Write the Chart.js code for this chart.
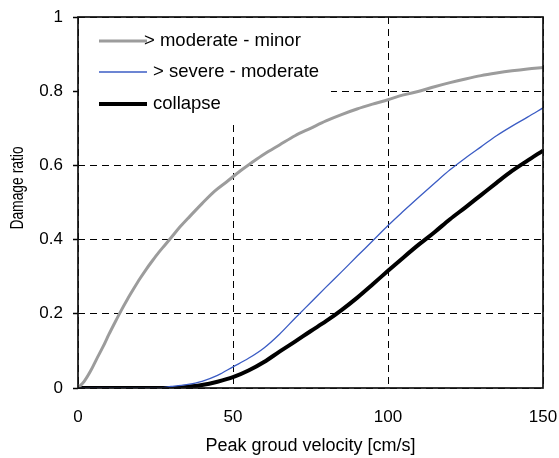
<!DOCTYPE html>
<html><head><meta charset="utf-8">
<script src="https://cdn.jsdelivr.net/npm/chart.js@4.4.1/dist/chart.umd.min.js"></script>
<style>html,body{margin:0;padding:0;background:#fff;}#wrap{width:559px;height:458px;}</style>
</head><body><div id="wrap"><canvas id="c" width="559" height="458"></canvas></div>
<script>
const seriesLabels = ['> moderate - minor', '> severe - moderate', 'collapse'];
const minorX = [0,2,4,6,8,10,12,14,16,18,20,22,24,26,28,30,33,36,40,44,48,52,56,60,65,70,75,80,85,90,95,100,105,110,115,120,125,130,135,140,145,150];
const minorY = [0,0.018,0.045,0.078,0.11,0.145,0.178,0.21,0.24,0.268,0.295,0.32,0.343,0.365,0.385,0.405,0.435,0.462,0.497,0.53,0.556,0.583,0.607,0.63,0.655,0.68,0.70,0.72,0.737,0.752,0.765,0.777,0.79,0.80,0.812,0.823,0.833,0.842,0.849,0.855,0.86,0.864];
const severeX = [0,25,30,35,40,45,50,55,60,65,70,75,80,85,90,95,100,105,110,115,120,125,130,135,140,145,150];
const severeY = [0,0,0.004,0.009,0.018,0.034,0.057,0.08,0.108,0.145,0.188,0.23,0.272,0.313,0.355,0.396,0.438,0.477,0.515,0.552,0.588,0.62,0.65,0.68,0.706,0.73,0.755];
const collapseX = [0,30,35,40,45,50,55,60,65,70,75,80,85,90,95,100,105,110,115,120,125,130,135,140,145,150];
const collapseY = [0,0,0.003,0.008,0.017,0.029,0.047,0.07,0.098,0.125,0.153,0.18,0.21,0.243,0.279,0.316,0.352,0.387,0.42,0.455,0.487,0.52,0.553,0.585,0.613,0.64];
const xTickLabels = ['0','50','100','150'];
const yTickLabels = ['0','0.2','0.4','0.6','0.8','1'];
const xAxisTitle = 'Peak groud velocity [cm/s]';
const yAxisTitle = 'Damage ratio';

const FONT = "'Liberation Sans', Arial, sans-serif";
const pts = (xs, ys) => xs.map((x, i) => ({x: x, y: ys[i]}));

const legendBox = {
  id: 'legendBox',
  beforeDatasetsDraw(chart) {
    const {ctx, chartArea: a} = chart;
    ctx.save();
    ctx.fillStyle = '#fff';
    ctx.fillRect(a.left + 1, a.top + 1, 252, 105);
    const rowOff = [24, 55, 87];
    const textOff = [66, 75, 75];
    ctx.font = '18.5px ' + FONT;
    ctx.textBaseline = 'middle';
    ctx.textAlign = 'left';
    chart.data.datasets.forEach((ds, i) => {
      const y = a.top + rowOff[i];
      ctx.strokeStyle = ds.borderColor;
      ctx.lineWidth = ds.borderWidth;
      ctx.beginPath();
      ctx.moveTo(a.left + 21, y);
      ctx.lineTo(a.left + 69, y);
      ctx.stroke();
      ctx.fillStyle = '#000';
      ctx.fillText(ds.label, a.left + textOff[i], y);
    });
    ctx.restore();
  }
};
const frame = {
  id: 'frame',
  afterDatasetsDraw(chart) {
    const {ctx, chartArea: a} = chart;
    ctx.save();
    ctx.strokeStyle = '#111';
    ctx.lineWidth = 1.7;
    ctx.strokeRect(a.left, a.top, a.right - a.left, a.bottom - a.top);
    ctx.restore();
  }
};
const yTitle = {
  id: 'yTitle',
  afterDraw(chart) {
    const {ctx} = chart;
    ctx.save();
    ctx.translate(18, 188);
    ctx.rotate(-Math.PI / 2);
    ctx.scale(0.77, 1);
    ctx.font = '18px ' + FONT;
    ctx.fillStyle = '#000';
    ctx.textAlign = 'center';
    ctx.textBaseline = 'middle';
    ctx.fillText(yAxisTitle, 0, 0);
    ctx.restore();
  }
};

new Chart(document.getElementById('c'), {
  type: 'line',
  data: {
    datasets: [
      {label: seriesLabels[0], data: pts(minorX, minorY), borderColor: '#9c9c9c', borderWidth: 3},
      {label: seriesLabels[1], data: pts(severeX, severeY), borderColor: '#3b5cc4', borderWidth: 1.3},
      {label: seriesLabels[2], data: pts(collapseX, collapseY), borderColor: '#000000', borderWidth: 4}
    ]
  },
  options: {
    responsive: false,
    animation: false,
    devicePixelRatio: 1,
    elements: {point: {radius: 0}, line: {cubicInterpolationMode: 'monotone', borderCapStyle: 'butt'}},
    layout: {padding: {top: 17, right: 16, bottom: 0, left: 0}},
    plugins: {legend: {display: false}, tooltip: {enabled: false}},
    scales: {
      x: {
        type: 'linear', min: 0, max: 150,
        afterFit: s => { s.height = 70; s.paddingLeft = 0; s.paddingRight = 0; },
        ticks: {stepSize: 50, padding: 19, color: '#000', font: {family: FONT, size: 17},
          callback: v => xTickLabels[Math.round(v / 50)]},
        grid: {color: '#000', lineWidth: 1, drawTicks: false},
        border: {display: false, dash: [7, 5]},
        title: {display: true, text: xAxisTitle, color: '#000', font: {family: FONT, size: 18}, padding: {top: 0, bottom: 1}}
      },
      y: {
        type: 'linear', min: 0, max: 1,
        afterFit: s => { s.width = 78; s.paddingTop = 0; s.paddingBottom = 0; },
        ticks: {stepSize: 0.2, padding: 10, color: '#000', font: {family: FONT, size: 17},
          callback: v => yTickLabels[Math.round(v / 0.2)]},
        grid: {color: '#000', lineWidth: 1, drawTicks: true, tickLength: 5, tickColor: '#000', tickWidth: 1.5},
        border: {display: false, dash: [7, 5]},
        title: {display: false}
      }
    }
  },
  plugins: [legendBox, frame, yTitle]
});
</script></body></html>
